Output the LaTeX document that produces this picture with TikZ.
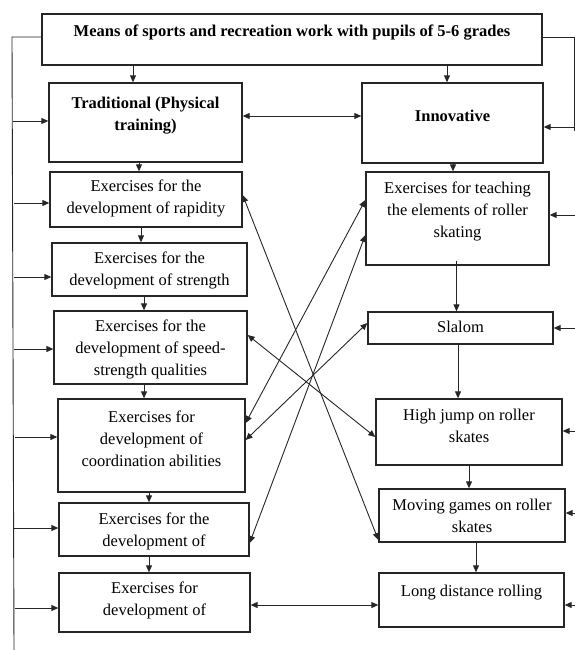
\documentclass[tikz,border=0pt]{standalone}
\usepackage{fontspec}
\setmainfont{Liberation Serif}
\usetikzlibrary{arrows.meta}
\tikzset{
  box/.style={draw=black!85, line width=1.3pt, inner sep=0pt},
  txt/.style={align=center, inner sep=0pt, font=\fontsize{16.5}{22}\selectfont},
  btxt/.style={align=center, inner sep=0pt, font=\fontsize{16.5}{22}\selectfont\bfseries},
  conn/.style={draw=black!85, line width=0.9pt},
  arr/.style={conn, -{Triangle[length=7pt,width=6pt]}},
  darr/.style={conn, {Triangle[length=7pt,width=6pt]}-{Triangle[length=7pt,width=6pt]}}
}
\begin{document}
\begin{tikzpicture}[x=1pt,y=-1pt]
\useasboundingbox (0,0) rectangle (575,650);
% boxes
\node[box, minimum width=500pt, minimum height=51pt] (top) at (292,39.5) {};
\node[btxt] (topT) at (292,33) {Means of sports and recreation work with pupils of 5-6 grades};
\node[box, minimum width=193pt, minimum height=79pt] (trad) at (145.5,122.5) {};
\node[btxt] (tradT) at (145.5,116) {Traditional (Physical\\training)};
\node[box, minimum width=181pt, minimum height=80pt] (inn) at (452.5,123) {};
\node[btxt] (innT) at (452.5,116) {Innovative};
\node[box, minimum width=192pt, minimum height=55pt] (rap) at (146,199.5) {};
\node[txt] (rapT) at (146,198) {Exercises for the\\development of rapidity};
\node[box, minimum width=195pt, minimum height=53pt] (str) at (149.5,269.5) {};
\node[txt] (strT) at (149.5,270) {Exercises for the\\development of strength};
\node[box, minimum width=193pt, minimum height=73pt] (spd) at (150.5,347.5) {};
\node[txt] (spdT) at (150.5,349.5) {Exercises for the\\development of speed-\\strength qualities};
\node[box, minimum width=187pt, minimum height=93pt] (crd) at (151.5,445.5) {};
\node[txt] (crdT) at (151.5,438.5) {Exercises for\\development of\\coordination abilities};
\node[box, minimum width=190pt, minimum height=53pt] (fif) at (154,529.5) {};
\node[txt] (fifT) at (154,531) {Exercises for the\\development of};
\node[box, minimum width=191pt, minimum height=59pt] (six) at (154.5,602.5) {};
\node[txt] (sixT) at (154.5,600.5) {Exercises for\\development of};
\node[box, minimum width=183pt, minimum height=93pt] (tea) at (457.5,218.5) {};
\node[txt] (teaT) at (457.5,211) {Exercises for teaching\\the elements of roller\\skating};
\node[box, minimum width=185pt, minimum height=32pt] (sla) at (460.5,328) {};
\node[txt] (slaT) at (460.5,327) {Slalom};
\node[box, minimum width=186pt, minimum height=66pt] (hj) at (469,432) {};
\node[txt] (hjT) at (469,426) {High jump on roller\\skates};
\node[box, minimum width=186pt, minimum height=53pt] (mov) at (472,515.5) {};
\node[txt] (movT) at (472,515.5) {Moving games on roller\\skates};
\node[box, minimum width=185pt, minimum height=54pt] (lon) at (471.5,600) {};
\node[txt] (lonT) at (471.5,593) {Long distance rolling};
% left bracket
\coordinate (lt) at (12,37);
\coordinate (lb) at (14,650);
\draw[conn] (lt -| top.west) -- (lt) -- (lb);
\coordinate (l1) at (12.5,121);
\coordinate (l2) at (14,203);
\coordinate (l3) at (14,277);
\coordinate (l4) at (13.5,349);
\coordinate (l5) at (14.5,437);
\coordinate (l6) at (14,528);
\coordinate (l7) at (15,608);
\draw[arr] (l1) -- (l1 -| trad.west);
\draw[arr] (l2) -- (l2 -| rap.west);
\draw[arr] (l3) -- (l3 -| str.west);
\draw[arr] (l4) -- (l4 -| spd.west);
\draw[arr] (l5) -- (l5 -| crd.west);
\draw[arr] (l6) -- (l6 -| fif.west);
\draw[arr] (l7) -- (l7 -| six.west);
% right bracket
\coordinate (rt) at (574,37);
\coordinate (rb) at (574,131);
\draw[conn] (rt -| top.east) -- (rt) -- (rb);
\coordinate (r1) at (575,127);
\coordinate (r2) at (575,215);
\coordinate (r3) at (575,328);
\coordinate (r4) at (575,431);
\coordinate (r5) at (575,513);
\coordinate (r6) at (575,605);
\draw[arr] (r1) -- (r1 -| inn.east);
\draw[arr] (r2) -- (r2 -| tea.east);
\draw[arr] (r3) -- (r3 -| sla.east);
\draw[arr] (r4) -- (r4 -| hj.east);
\draw[arr] (r5) -- (r5 -| mov.east);
\draw[arr] (r6) -- (r6 -| lon.east);
% vertical arrows
\coordinate (v1) at ([xshift=-12.5pt]trad.north);
\coordinate (v2) at ([xshift=-5.5pt]inn.north);
\coordinate (v3) at ([xshift=-7pt]rap.north);
\coordinate (v4) at ([xshift=-8.5pt]str.north);
\coordinate (v5) at ([xshift=-6.5pt]spd.north);
\coordinate (v6) at ([xshift=-7.5pt]crd.north);
\coordinate (v7) at ([xshift=-5pt]fif.north);
\coordinate (v8) at ([xshift=-5.5pt]six.north);
\coordinate (v9) at ([xshift=-4.5pt]tea.north);
\coordinate (v10) at ([xshift=-4pt]sla.north);
\coordinate (v11) at ([xshift=-11pt]hj.north);
\coordinate (v12) at ([xshift=-3pt]mov.north);
\coordinate (v13) at ([xshift=4.5pt]lon.north);
\draw[arr] (v1 |- top.south) -- (v1);
\draw[arr] (v2 |- top.south) -- (v2);
\draw[arr] (v3 |- trad.south) -- (v3);
\draw[arr] (v4 |- rap.south) -- (v4);
\draw[arr] (v5 |- str.south) -- (v5);
\draw[arr] (v6 |- spd.south) -- (v6);
\draw[arr] (v7 |- crd.south) -- (v7);
\draw[arr] (v8 |- fif.south) -- (v8);
\draw[arr] (v9 |- inn.south) -- (v9);
\draw[arr] ([yshift=5pt]v10 |- tea.south) -- (v10);
\draw[arr] (v11 |- sla.south) -- (v11);
\draw[arr] (v12 |- hj.south) -- (v12);
\draw[arr] (v13 |- mov.south) -- (v13);
% horizontal double arrows
\coordinate (d1) at ([yshift=6.5pt]trad.east);
\draw[darr] (d1) -- (d1 -| inn.west);
\coordinate (d2) at ([yshift=-2.5pt]six.east);
\draw[darr] (d2) -- (d2 -| lon.west);
% diagonal double arrows
\draw[darr] ([yshift=4.5pt]rap.east) -- ([yshift=-24.5pt]mov.west);
\draw[darr] ([yshift=12.5pt]spd.east) -- ([yshift=-5pt]hj.west);
\draw[darr] ([yshift=22.5pt]crd.east) -- ([yshift=18.5pt]tea.west);
\draw[darr] ([yshift=-16.5pt]tea.west) -- ([yshift=-13.5pt]fif.east);
\draw[darr] ([yshift=5pt]sla.west) -- ([yshift=5.5pt]crd.east);
\end{tikzpicture}
\end{document}
